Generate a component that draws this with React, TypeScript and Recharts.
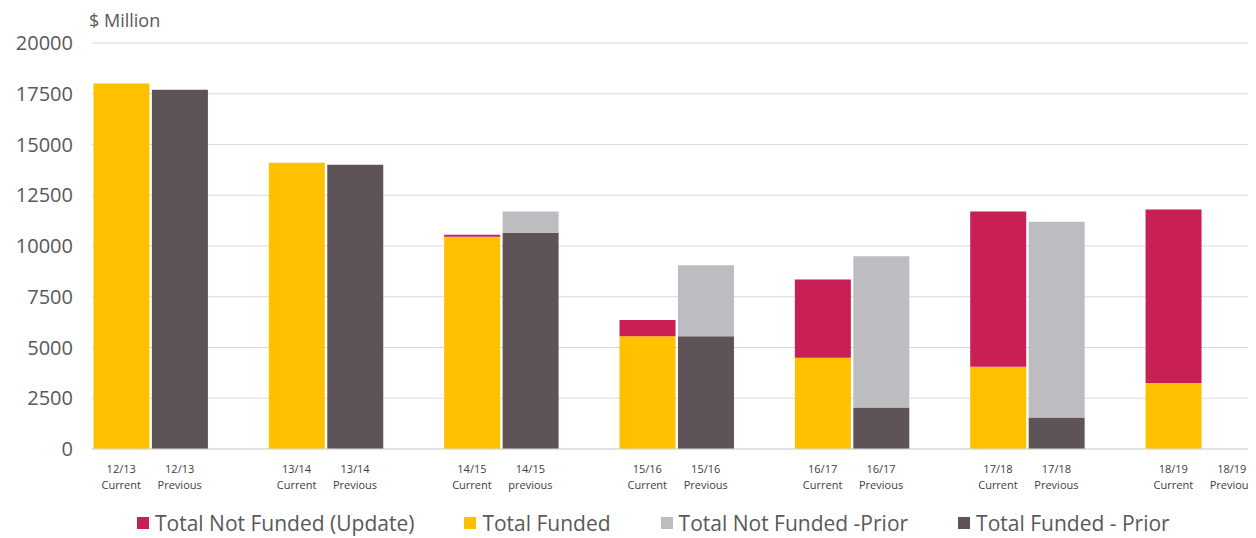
import { BarChart, Bar, XAxis, YAxis, CartesianGrid, Legend } from 'recharts';

const years = ['12/13', '13/14', '14/15', '15/16', '16/17', '17/18', '18/19'];
const currentWords = ['Current', 'Current', 'Current', 'Current', 'Current', 'Current', 'Current'];
const previousWords = ['Previous', 'Previous', 'previous', 'Previous', 'Previous', 'Previous', 'Previous'];

const totalFunded = [18000, 14100, 10450, 5550, 4500, 4050, 3250];
const totalNotFunded = [0, 0, 100, 800, 3850, 7650, 8550];
const totalFundedPrior = [17700, 14000, 10650, 5550, 2050, 1550, 0];
const totalNotFundedPrior = [0, 0, 1050, 3500, 7450, 9650, 0];

const yTicks = [0, 2500, 5000, 7500, 10000, 12500, 15000, 17500, 20000];

const COLORS = {
  notFunded: '#C81F55',
  funded: '#FFC000',
  notFundedPrior: '#BDBCC0',
  fundedPrior: '#5E5457',
};

const legendItems = [
  { label: 'Total Not Funded (Update)', color: COLORS.notFunded },
  { label: 'Total Funded', color: COLORS.funded },
  { label: 'Total Not Funded -Prior', color: COLORS.notFundedPrior },
  { label: 'Total Funded - Prior', color: COLORS.fundedPrior },
];

// current / previous pairs, with an empty slot between the years
const data: any[] = [];
years.forEach((y, i) => {
  data.push({ name: `${y}\n${currentWords[i]}`, funded: totalFunded[i], notFunded: totalNotFunded[i] });
  data.push({ name: `${y}\n${previousWords[i]}`, fundedPrior: totalFundedPrior[i], notFundedPrior: totalNotFundedPrior[i] });
  if (i < years.length - 1) data.push({ name: '' });
});

const font = "'Open Sans', sans-serif";

const XTick = ({ x, y, payload }: any) => {
  const [top, bottom] = String(payload.value).split('\n');
  if (!top) return null;
  return (
    <text x={x} y={y} textAnchor="middle" fill="#404040" fontSize={11} fontFamily={font}>
      <tspan x={x} dy={24}>{top}</tspan>
      <tspan x={x} dy={16}>{bottom}</tspan>
    </text>
  );
};

const LegendContent = () => (
  <div style={{ display: 'flex', height: 28, alignItems: 'center', paddingLeft: 129, fontFamily: font, fontSize: 21, color: '#595959' }}>
    {legendItems.map((item) => (
      <div key={item.label} style={{ display: 'flex', alignItems: 'center', marginRight: 50 }}>
        <span style={{ width: 12, height: 12, background: item.color, marginRight: 6, display: 'inline-block' }} />
        <span style={{ lineHeight: '28px', whiteSpace: 'nowrap' }}>{item.label}</span>
      </div>
    ))}
  </div>
);

export default function App() {
  return (
    <div style={{ position: 'relative', width: 1248, height: 530, overflow: 'hidden' }}>
      <div style={{ position: 'absolute', left: 81, top: 0, fontFamily: font, fontSize: 18, color: '#595959', whiteSpace: 'nowrap' }}>
        $ Million
      </div>
      <BarChart
        width={1256}
        height={530}
        data={data}
        margin={{ top: 35, right: 3, bottom: 1, left: 0 }}
        barCategoryGap="2.5%"
      >
        <CartesianGrid vertical={false} stroke="#D9D9D9" />
        <XAxis
          dataKey="name"
          height={60}
          tick={<XTick />}
          tickLine={false}
          axisLine={{ stroke: '#D9D9D9' }}
          tickSize={0}
          tickMargin={0}
          interval={0}
        />
        <YAxis
          width={84}
          domain={[0, 20000]}
          ticks={yTicks}
          axisLine={false}
          tickLine={false}
          tickSize={0}
          tickMargin={19}
          tick={{ fill: '#595959', fontSize: 20, fontFamily: font }}
        />
        <Legend verticalAlign="bottom" height={28} content={<LegendContent />} />
        <Bar dataKey="funded" stackId="a" fill={COLORS.funded} isAnimationActive={false} />
        <Bar dataKey="notFunded" stackId="a" fill={COLORS.notFunded} isAnimationActive={false} />
        <Bar dataKey="fundedPrior" stackId="a" fill={COLORS.fundedPrior} isAnimationActive={false} />
        <Bar dataKey="notFundedPrior" stackId="a" fill={COLORS.notFundedPrior} isAnimationActive={false} />
      </BarChart>
    </div>
  );
}
